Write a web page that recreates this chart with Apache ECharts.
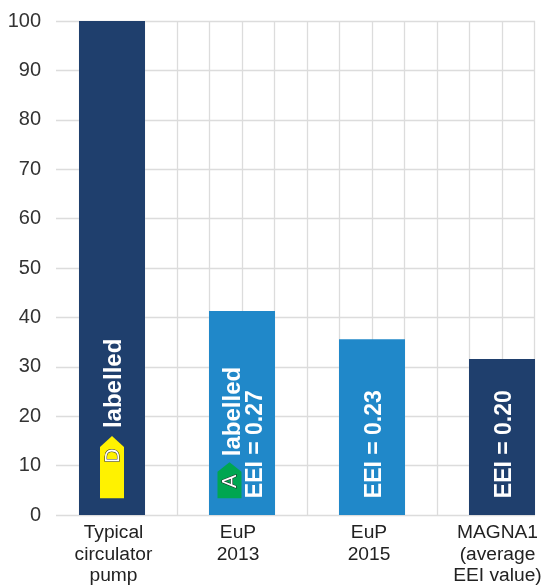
<!DOCTYPE html>
<html><head><meta charset="utf-8">
<style>html,body{margin:0;padding:0;background:#fff}#c{width:544px;height:585px}</style>
<script src="https://cdn.jsdelivr.net/npm/echarts@6/dist/echarts.min.js"></script>
</head><body><div id="c"></div>
<script>
const categories = ['Typical\ncirculator\npump','EuP\n2013','EuP\n2015','MAGNA1\n(average\nEEI value)'];
const categoryPadding = [[0,0,0,3],[0,8,0,0],[0,6,0,0],[0,9,0,0]];
const values = [100, 41.3, 35.6, 31.6];
const barColors = ['#1f3f6d','#2088c9','#2088c9','#1f3f6d'];
const yTicks = [0,10,20,30,40,50,60,70,80,90,100];
const textCategory = [0,1,1,2,3];
const textStart = [17.6,11.9,3.4,3.4,3.4];
const textLines = ['labelled','labelled','EEI = 0.27','EEI = 0.23','EEI = 0.20'];
const badgeCategory = [0,1];
const badgeLetters = ['D','A'];
const badgeColors = ['#fff200','#00a651'];
const badgeBottom = [3.4,3.4];
const badgeTop = [16,10.7];

const FONT = '"Liberation Sans", Arial, sans-serif';
const chart = echarts.init(document.getElementById('c'), null, {renderer:'canvas'});
chart.setOption({
  animation:false,
  backgroundColor:'#fff',
  grid:[
    {left:56, top:21, width:479, height:494, outerBoundsMode:'none'},
    {left:47, top:21, width:520, height:494, outerBoundsMode:'none'}
  ],
  xAxis:[
    {gridIndex:0,type:'value',min:0,max:1,show:false},
    {gridIndex:1,type:'category',
      data:categories.map((c,i)=>({value:c,textStyle:{padding:categoryPadding[i]}})),position:'bottom',
      axisLine:{show:false},axisTick:{show:false},splitLine:{show:false},
      axisLabel:{color:'#222',fontFamily:FONT,fontSize:19.2,lineHeight:21.5,margin:7,interval:0,hideOverlap:false}},
    {gridIndex:1,type:'value',min:0,max:16,interval:1,position:'top',
      axisLine:{show:false},axisTick:{show:false},axisLabel:{show:false},
      splitLine:{show:true,showMinLine:false,lineStyle:{color:'#dcdcdc',width:1.3}}}
  ],
  yAxis:[
    {gridIndex:0,type:'value',min:0,max:100,interval:10,
      axisLine:{show:false},axisTick:{show:false},
      axisLabel:{color:'#333',fontFamily:FONT,fontSize:20,margin:15,
        formatter:v=>yTicks.includes(v)?String(v):''},
      splitLine:{show:true,lineStyle:{color:'#dcdcdc',width:1.3}}},
    {gridIndex:1,type:'value',min:0,max:100,show:false}
  ],
  series:[
    {type:'bar',xAxisIndex:1,yAxisIndex:1,barWidth:66,z:3,
      data:values.map((v,i)=>({value:v,itemStyle:{color:barColors[i]}}))},
    {type:'custom',xAxisIndex:1,yAxisIndex:1,z:5,clip:false,
      data:textCategory.map((c,i)=>[c,textStart[i]]),
      renderItem:(params,api)=>{
        const i=params.dataIndex;
        const p=api.coord([api.value(0),api.value(1)]);
        const off = (i===1?-11:(i===2?11.5:0))+2.5;
        const size = i<2?24:23;
        return {type:'text',x:p[0]+off,y:p[1],rotation:Math.PI/2,
          style:{text:textLines[i],fill:'#fff',font:'bold '+size+'px '+FONT,align:'left',verticalAlign:'middle'}};
      }},
    {type:'custom',xAxisIndex:1,yAxisIndex:1,z:6,clip:false,
      data:badgeCategory.map((c,i)=>[c,badgeBottom[i],badgeTop[i]]),
      renderItem:(params,api)=>{
        const i=params.dataIndex;
        const b=api.coord([api.value(0),api.value(1)]);
        const t=api.coord([api.value(0),api.value(2)]);
        const hw=12, off=i===1?-12.5:0, cx=b[0]+off, sh=i===0?11:9.5;
        const pts=[[cx-hw,b[1]],[cx+hw,b[1]],[cx+hw,t[1]+sh],[cx,t[1]],[cx-hw,t[1]+sh]];
        return {type:'group',children:[
          {type:'polygon',shape:{points:pts},style:{fill:badgeColors[i]}},
          {type:'text',x:cx+1,y:t[1]+(b[1]-t[1])*(i===0?0.32:0.53),rotation:Math.PI/2,
            style:{text:badgeLetters[i],fill:'#fff',stroke:'#222',lineWidth:1,
              font:'20px '+FONT,align:'center',verticalAlign:'middle'}}
        ]};
      }}
  ]
});
</script></body></html>
